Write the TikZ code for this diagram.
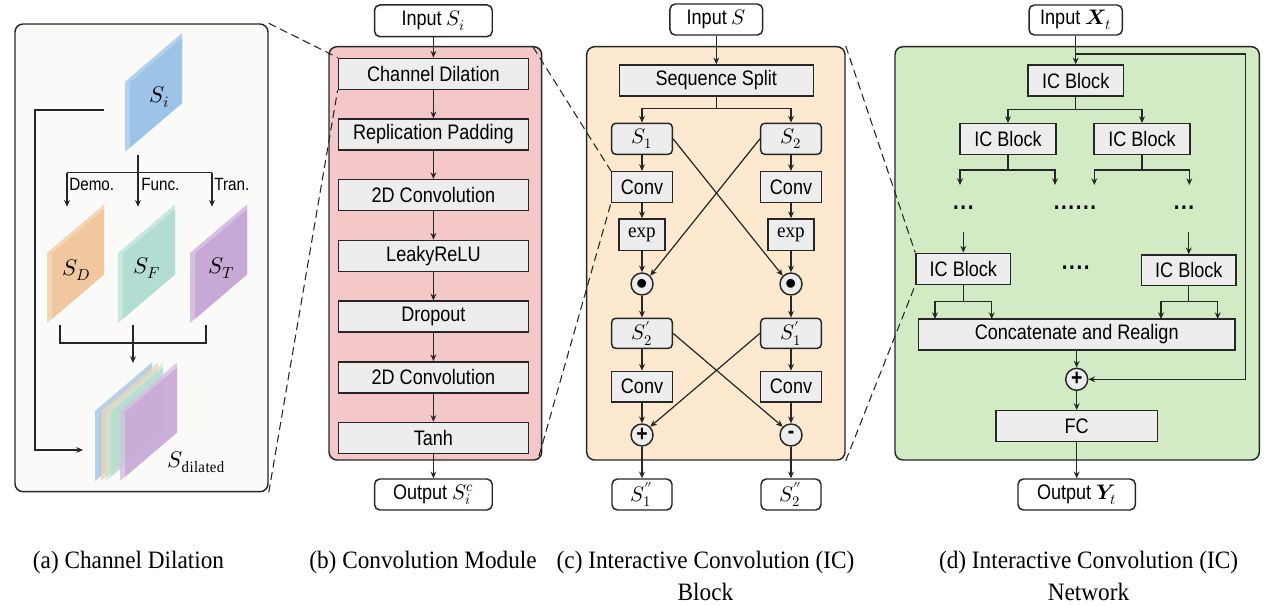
\documentclass[tikz,border=0pt]{standalone}
\usepackage{fontspec}
\usepackage{unicode-math}
\setmainfont[FakeStretch=0.93]{Liberation Serif}
\setsansfont[FakeStretch=0.86]{Liberation Sans}
\usetikzlibrary{arrows.meta,calc}
\definecolor{lk}{HTML}{262626}
\definecolor{boxg}{HTML}{EDEDED}
\definecolor{bga}{HTML}{FAFAF8}
\definecolor{bgb}{HTML}{F4C8C8}
\definecolor{bgc}{HTML}{FCE9CF}
\definecolor{bgd}{HTML}{D2EBC5}
\definecolor{blm}{HTML}{9DC3E6}\definecolor{bll}{HTML}{B2D1EC}
\definecolor{orm}{HTML}{F0C79E}\definecolor{orl}{HTML}{F6D5B2}
\definecolor{tem}{HTML}{B3DDD3}\definecolor{tel}{HTML}{C7E8E1}
\definecolor{pum}{HTML}{C8A8D5}\definecolor{pul}{HTML}{D7BEE2}
\newcommand\bxfont{\sffamily\fontsize{15.75}{18}\selectfont}
\newcommand\lbfont{\sffamily\fontsize{13.3}{16}\selectfont}
\newcommand\capfont{\rmfamily\fontsize{18.75}{24}\selectfont}
\newcommand\slab[5][]{%
  \fill[#4,#1] (#2,#3) -- (#2,#3-70) -- (#2+57,#3-118.5) -- (#2+57,#3-48.5) -- cycle;
  \fill[#5,#1] (#2+5,#3-4.25) -- (#2+5,#3-69.25) -- (#2+57,#3-113.5) -- (#2+57,#3-48.5) -- cycle;}
\begin{document}
\begin{tikzpicture}[x=0.75pt,y=-0.75pt,
  wh/.style 2 args={minimum width=#1*0.75pt,minimum height=#2*0.75pt},
  box/.style={draw=lk,line width=1.1pt,fill=boxg,inner sep=0pt,font=\bxfont},
  rbox/.style={box,rounded corners=3pt},
  iobox/.style={draw=lk,line width=1.1pt,fill=white,inner sep=0pt,rounded corners=4pt,font=\bxfont},
  circ/.style={circle,draw=lk,line width=1.1pt,fill=boxg,minimum size=16.5pt,inner sep=0pt,font=\sffamily\bfseries\fontsize{17}{18}\selectfont},
  cont/.style={draw=lk,line width=1.1pt,rounded corners=6pt,inner sep=0pt},
  ln/.style={draw=lk,line width=0.9pt},
  arr/.style={ln,-{Stealth[length=5pt,width=4.4pt]}},
  dsh/.style={draw=lk,line width=0.8pt,dash pattern=on 6pt off 3.5pt},
  lab/.style={font=\lbfont,inner sep=0pt},
  mlab/.style={font=\fontsize{17}{20}\selectfont,inner sep=0pt},
  dts/.style={font=\sffamily\bfseries\fontsize{18}{20}\selectfont,inner sep=0pt},
  captxt/.style={font=\capfont,align=center,inner sep=0pt}]
\useasboundingbox (0,0) rectangle (1275,606);
\fill[white] (0,0) rectangle (1275,606);

% ---------- containers ----------
\node[cont,fill=bga,wh={253}{467.7}] (pa) at (141.5,257.85) {};
\node[cont,fill=bgb,wh={212.7}{413.3}] (pb) at (435.35,253.35) {};
\node[cont,fill=bgc,wh={258.3}{413.3}] (pc) at (715.85,253.35) {};
\node[cont,fill=bgd,wh={364.3}{413.3}] (pd) at (1077.15,253.35) {};

% ---------- panel (a) ----------
\slab{125}{151.7}{bll}{blm}
\slab{47}{323}{orl}{orm}
\slab{118}{323}{tel}{tem}
\slab{190}{323}{pul}{pum}
\slab{95}{481}{bll}{blm}
\slab[opacity=0.8]{101}{481}{orl}{orm}
\slab[opacity=0.75]{106}{481}{tel}{tem}
\slab[opacity=0.8]{120}{481}{pul}{pum}
\node[mlab] (si) at (160,97) {$S_i$};
\node[mlab] (sd) at (76.7,270) {$S_D$};
\node[mlab] (sf) at (146.7,268) {$S_F$};
\node[mlab] (st) at (221.7,268) {$S_T$};
\node[mlab] (sdil) at (196.7,462) {$S_{\mathrm{dilated}}$};

\coordinate (sibl) at (104,110);
\coordinate (bl1) at (35,110);
\coordinate (bl2) at (35,450);
\coordinate (sdl) at (83,450);
\draw[arr] (sibl) -- (bl1) -- (bl2) -- (sdl);
\coordinate (sib) at (138,155);
\coordinate (jl) at (67,172.7);
\coordinate (jr) at (212,172.7);
\coordinate (tD) at (67,206.7);
\coordinate (tF) at (138,206.7);
\coordinate (tT) at (212,206.7);
\draw[arr] (sib) -- (tF);
\draw[ln] (jl) -- (jr);
\draw[arr] (jl) -- (tD);
\draw[arr] (jr) -- (tT);
\node[lab,anchor=west] (ldemo) at (69,184) {Demo.};
\node[lab,anchor=west] (lfunc) at (141,184) {Func.};
\node[lab,anchor=west] (ltran) at (214,184) {Tran.};
\coordinate (mD) at (60,325);
\coordinate (mDj) at (60,343);
\coordinate (mT) at (206,325);
\coordinate (mTj) at (206,343);
\coordinate (mF) at (133,325);
\coordinate (tS) at (133,363);
\draw[ln] (mD) -- (mDj) -- (mTj) -- (mT);
\draw[arr] (mF) -- (tS);

% ---------- panel (b) ----------
\node[iobox,wh={117.7}{31.7}] (inb) at (433.4,20.8) {Input $S_i$};
\node[box,wh={190}{31}] (cd) at (433.4,73.8) {Channel Dilation};
\node[box,wh={190}{31}] (rp) at (433.4,134.5) {Replication Padding};
\node[box,wh={190}{31}] (c1) at (433.4,195.2) {2D Convolution};
\node[box,wh={190}{31}] (lr) at (433.4,255.9) {LeakyReLU};
\node[box,wh={190}{31}] (dr) at (433.4,316.6) {Dropout};
\node[box,wh={190}{31}] (c2) at (433.4,377.3) {2D Convolution};
\node[box,wh={190}{31}] (th) at (433.4,438) {Tanh};
\node[iobox,wh={117.7}{31}] (outb) at (433.4,494.5) {Output $S^{c}_{i}$};
\draw[arr] (inb) -- (cd);
\draw[arr] (cd) -- (rp);
\draw[arr] (rp) -- (c1);
\draw[arr] (c1) -- (lr);
\draw[arr] (lr) -- (dr);
\draw[arr] (dr) -- (c2);
\draw[arr] (c2) -- (th);
\draw[arr] (th) -- (outb);

% ---------- panel (c) ----------
\node[iobox,wh={92.7}{31}] (inc) at (716.3,19.5) {Input $S$};
\node[box,wh={194}{31}] (ss) at (716.3,80.5) {Sequence Split};
\node[rbox,wh={60.6}{31}] (s1) at (642,138.8) {$S_1$};
\node[rbox,wh={60.6}{31}] (s2) at (791,138.8) {$S_2$};
\node[box,wh={60.6}{30.6}] (cvl) at (642,187) {Conv};
\node[box,wh={60.6}{30.6}] (cvr) at (791,187) {Conv};
\node[box,wh={46.4}{31.7},font=\rmfamily\fontsize{15.4}{18}\selectfont] (exl) at (642,234.8) {exp};
\node[box,wh={46.4}{31.7},font=\rmfamily\fontsize{15.4}{18}\selectfont] (exr) at (791,234.8) {exp};
\node[circ] (odl) at (642,284) {$\bullet$};
\node[circ] (odr) at (791,284) {$\bullet$};
\node[rbox,wh={60.6}{30}] (s2p) at (642,333.3) {$S_2'$};
\node[rbox,wh={60.6}{30}] (s1p) at (791,333.3) {$S_1'$};
\node[box,wh={60.6}{30.6}] (cvl2) at (642,386.7) {Conv};
\node[box,wh={60.6}{30.6}] (cvr2) at (791,386.7) {Conv};
\node[circ] (pl) at (642,435) {+};
\node[circ] (mi) at (791,435) {-};
\node[iobox,wh={60}{31}] (o1) at (642,494.5) {$S_1''$};
\node[iobox,wh={60}{31}] (o2) at (791,494.5) {$S_2''$};
\coordinate (ssj) at (716.3,108.3);
\draw[arr] (inc) -- (ss);
\draw[ln] (ss.south) -- (ssj);
\draw[arr] (ssj) -| (s1.north);
\draw[arr] (ssj) -| (s2.north);
\draw[arr] (s1) -- (cvl);
\draw[arr] (cvl) -- (exl);
\draw[arr] (exl) -- (odl);
\draw[arr] (odl) -- (s2p);
\draw[arr] (s2p) -- (cvl2);
\draw[arr] (cvl2) -- (pl);
\draw[arr] (pl) -- (o1);
\draw[arr] (s2) -- (cvr);
\draw[arr] (cvr) -- (exr);
\draw[arr] (exr) -- (odr);
\draw[arr] (odr) -- (s1p);
\draw[arr] (s1p) -- (cvr2);
\draw[arr] (cvr2) -- (mi);
\draw[arr] (mi) -- (o2);
\draw[arr] (s1.east) -- (odr.north west);
\draw[arr] (s2.west) -- (odl.north east);
\draw[arr] (s2p.east) -- (mi.north west);
\draw[arr] (s1p.west) -- (pl.north east);

% ---------- panel (d) ----------
\node[iobox,wh={93.3}{30}] (ind) at (1075.7,20) {Input $\symbfit{X}_t$};
\node[box,wh={95.6}{31}] (ic0) at (1075.7,80.5) {IC Block};
\node[box,wh={95.7}{30.5}] (icA) at (1008,139) {IC Block};
\node[box,wh={95.7}{30.5}] (icB) at (1142,139) {IC Block};
\node[dts] (d1) at (963.3,208) {.\kern1.2pt.\kern1.2pt.};
\node[dts] (d2) at (1075,208) {.\kern1.2pt.\kern1.2pt.\kern1.2pt.\kern1.2pt.\kern1.2pt.};
\node[dts] (d3) at (1184,208) {.\kern1.2pt.\kern1.2pt.};
\node[dts] (d4) at (1075.7,268) {.\kern1.2pt.\kern1.2pt.\kern1.2pt.};
\node[box,wh={94.7}{31}] (icL) at (963.3,268.8) {IC Block};
\node[box,wh={94.3}{30.7}] (icR) at (1188.8,270.3) {IC Block};
\node[box,wh={316.7}{31}] (cat) at (1076.7,334.5) {Concatenate and Realign};
\node[circ] (padd) at (1076.7,379.3) {+};
\node[box,wh={161.7}{31}] (fc) at (1076.7,426.2) {FC};
\node[iobox,wh={117.4}{31}] (outd) at (1076.7,494.5) {Output $\symbfit{Y}_t$};

\draw[arr] (ind) -- (ic0);
\coordinate (byp) at (1075.7,54);
\coordinate (bypr) at (1245.7,54);
\draw[ln] (byp) -- (bypr);
\draw[arr] (bypr) |- (padd.east);
\coordinate (j0) at (1075.7,109.3);
\draw[ln] (ic0.south) -- (j0);
\draw[arr] (j0) -| (icA.north);
\draw[arr] (j0) -| (icB.north);
\coordinate (jA) at (1008,170);
\coordinate (tA1) at (960,185);
\coordinate (tA2) at (1055,185);
\draw[ln] (icA.south) -- (jA);
\draw[arr] (jA) -| (tA1);
\draw[arr] (jA) -| (tA2);
\coordinate (jB) at (1142,170);
\coordinate (tB1) at (1094.3,185);
\coordinate (tB2) at (1189.3,185);
\draw[ln] (icB.south) -- (jB);
\draw[arr] (jB) -| (tB1);
\draw[arr] (jB) -| (tB2);
\coordinate (fL) at (963.3,231.7);
\coordinate (fR) at (1188.8,232);
\draw[arr] (fL) -- (icL.north);
\draw[arr] (fR) -- (icR.north);
\coordinate (jL) at (963.3,301.7);
\coordinate (tL1) at (935,319);
\coordinate (tL2) at (991.7,319);
\draw[ln] (icL.south) -- (jL);
\draw[arr] (jL) -| (tL1);
\draw[arr] (jL) -| (tL2);
\coordinate (jR) at (1188.8,301.7);
\coordinate (tR1) at (1161,319);
\coordinate (tR2) at (1217.7,319);
\draw[ln] (icR.south) -- (jR);
\draw[arr] (jR) -| (tR1);
\draw[arr] (jR) -| (tR2);
\draw[arr] (cat) -- (padd);
\draw[arr] (padd) -- (fc);
\draw[arr] (fc) -- (outd);

% ---------- dashed zoom lines ----------
\coordinate (pbt) at (533,47);
\coordinate (pbb) at (539,456);
\draw[dsh] (pa.north east) -- (cd.north west);
\draw[dsh] (pa.south east) -- (cd.south west);
\draw[dsh] (pbt) -- (cvl.north west);
\draw[dsh] (pbb) -- (cvl.south west);
\draw[dsh] (pc.north east) -- (icL.north west);
\draw[dsh] (pc.south east) -- (icL.south west);

% ---------- captions ----------
\node[captxt] (capa) at (128.5,562) {(a) Channel Dilation};
\node[captxt] (capb) at (423,562) {(b) Convolution Module};
\node[captxt,anchor=north] (capc) at (705.5,551) {(c) Interactive Convolution (IC)\\Block};
\node[captxt,anchor=north] (capd) at (1088.5,551) {(d) Interactive Convolution (IC)\\Network};
\end{tikzpicture}
\end{document}
